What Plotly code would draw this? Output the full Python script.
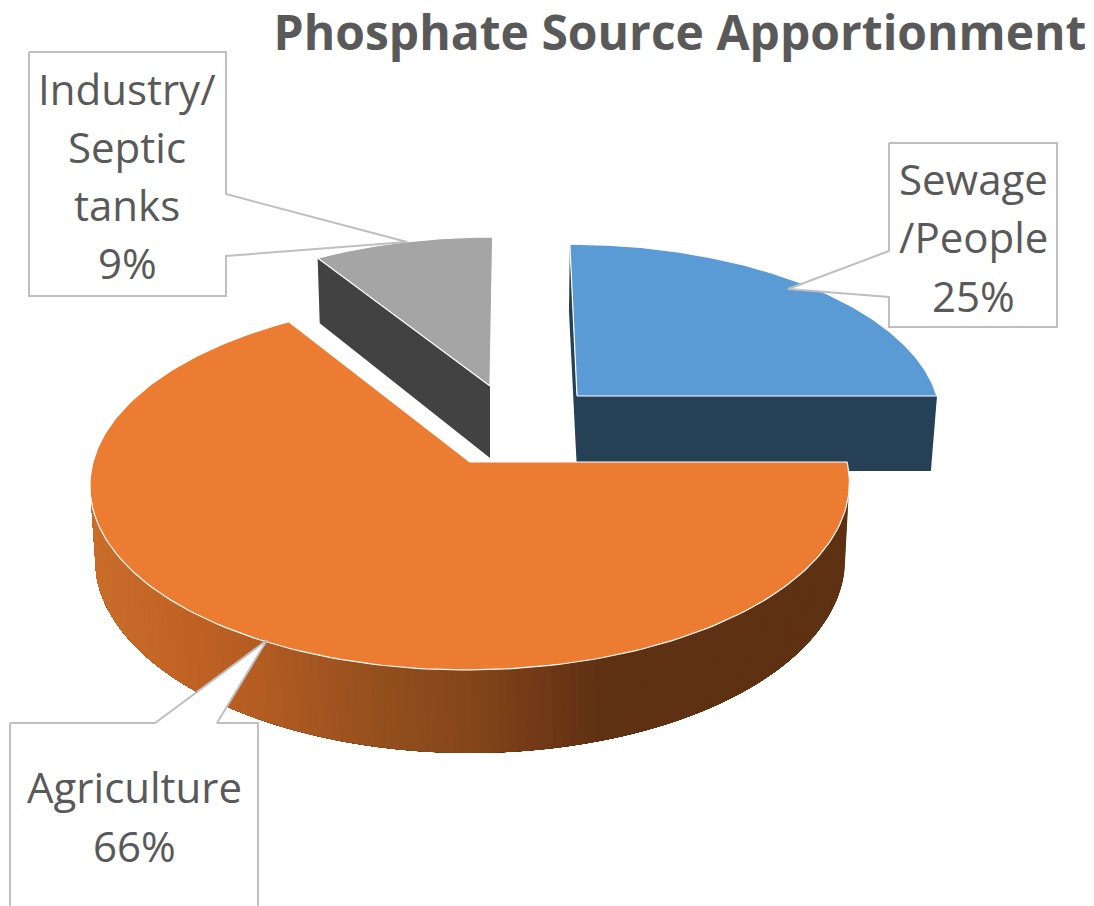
import numpy as np
import plotly.graph_objects as go

# ---- data ----
title_text = "Phosphate Source Apportionment"
categories = ["Sewage/People", "Agriculture", "Industry/Septic tanks"]
values = [25, 66, 9]
label_lines = [["Sewage", "/People"], ["Agriculture"], ["Industry/", "Septic", "tanks"]]

# ---- style / projection settings (pixel space) ----
W, H = 1094, 906
TOP = ["#5B9BD5", "#EB7C31", "#A5A5A5"]
SIDE = ["#264156", "#5F3113", "#424242"]
TEXT = "#595959"
BOX = "#BFBFBF"
FONT = "Open Sans"
K = 0.12  # perspective strength
# apex x, apex y, half-width, half-depth, extrusion, bottom scale, top skew, bottom skew
GEOM = [
    dict(cx=577, cy=396, a=360, b=170, d=75, bs=0.983, st=-8, sb=-9),
    dict(cx=470, cy=462, a=377, b=183, d=73, bs=0.988, st=3, sb=0),
    dict(cx=490, cy=386, a=359, b=167, d=72, bs=0.988, st=3, sb=3),
]
GRAD_X = [92, 180, 260, 400, 480, 540, 600, 850]
GRAD_RGB = [(201, 109, 43), (194, 99, 36), (179, 92, 34), (144, 77, 29),
            (131, 69, 24), (115, 57, 23), (95, 49, 19), (95, 49, 19)]
SIDE_START, SIDE_END = 100.0, 258.0
# callouts: box x0, y0, x1, y1, text centre x, first line y, line step
CALLOUTS = [
    dict(x0=889, y0=143, x1=1057, y1=327, tx=973, ty=178, step=58.5,
         ptr=[(889, 251), (788, 289), (889, 297)], side="left"),
    dict(x0=10, y0=723, x1=258, y1=915, tx=134, ty=786, step=59,
         ptr=[(155, 723), (267, 640), (217, 723)], side="top"),
    dict(x0=29, y0=52, x1=226, y1=296, tx=127, ty=88, step=58.3,
         ptr=[(226, 194), (407, 242), (226, 256)], side="right"),
]

# ---- angles from values (clockwise from 12 o'clock) ----
cum = np.concatenate([[0], np.cumsum(values)]) / sum(values) * 360.0


def top_pt(g, t):
    X, Y = np.sin(np.radians(t)), np.cos(np.radians(t))
    s = 1 + K * Y
    return g["cx"] + (g["a"] * X + g["st"] * Y) / s, g["cy"] - g["b"] * Y / s


def bot_pt(g, t):
    X, Y = np.sin(np.radians(t)), np.cos(np.radians(t))
    s = 1 + K * Y
    return (g["cx"] + (g["a"] * g["bs"] * X + g["sb"] * Y) / s,
            g["cy"] - g["b"] * Y / s + g["d"] / s)


def poly(xs, ys, fill, line=None, lw=0, name=None, hover=None):
    return go.Scatter(
        x=list(xs), y=list(ys), mode="lines", fill="toself", fillcolor=fill,
        line=dict(color=line or fill, width=lw),
        hoverinfo="text" if hover else "skip", text=hover, name=name or "",
        showlegend=False,
    )


def wedge(i):
    g = GEOM[i]
    ts = np.linspace(cum[i], cum[i + 1], 200)
    xs, ys = top_pt(g, ts)
    return poly([g["cx"], *xs, g["cx"]], [g["cy"], *ys, g["cy"]], TOP[i],
                line="#FFFFFF", lw=1.2, name=categories[i],
                hover=f"{categories[i]}: {values[i]}%")


def flat_face(i, t):
    g = GEOM[i]
    x1, y1 = top_pt(g, t)
    x2, y2 = bot_pt(g, t)
    return poly([g["cx"], x1, x2, g["cx"], g["cx"]],
                [g["cy"], y1, y2, g["cy"] + g["d"], g["cy"]], SIDE[i])


def grad(x):
    rgb = [np.interp(x, GRAD_X, [c[j] for c in GRAD_RGB]) for j in range(3)]
    return "rgb(%d,%d,%d)" % tuple(int(round(v)) for v in rgb)


fig = go.Figure()

# Industry wedge (back)
fig.add_trace(flat_face(2, cum[2]))
fig.add_trace(wedge(2))
# Sewage wedge
fig.add_trace(flat_face(0, cum[0]))
fig.add_trace(flat_face(0, cum[1]))
fig.add_trace(wedge(0))
# Agriculture rim: each band runs on to the far end and the next one paints
# over it, so no seams show between the colour steps
edges = np.linspace(SIDE_START, SIDE_END, 130)
for t0 in edges[:-1]:
    ts = np.linspace(t0, SIDE_END, 120)
    xt, yt = top_pt(GEOM[1], ts)
    xb, yb = bot_pt(GEOM[1], ts)
    fig.add_trace(poly([*xt, *xb[::-1]], [*yt, *yb[::-1]], grad(float(xt[0]))))
fig.add_trace(wedge(1))

# Callouts
annotations = []
for c, lines, v in zip(CALLOUTS, label_lines, values):
    x0, y0, x1, y1 = c["x0"], c["y0"], c["x1"], c["y1"]
    p = c["ptr"]
    if c["side"] == "left":
        pts = [(x0, y0), (x1, y0), (x1, y1), (x0, y1), *p[::-1], (x0, y0)]
    elif c["side"] == "right":
        pts = [(x0, y0), (x1, y0), *p, (x1, y1), (x0, y1), (x0, y0)]
    else:
        pts = [(x0, y0), *p, (x1, y0), (x1, y1), (x0, y1), (x0, y0)]
    fig.add_trace(go.Scatter(
        x=[q[0] for q in pts], y=[q[1] for q in pts], mode="lines",
        fill="toself", fillcolor="#FFFFFF", line=dict(color=BOX, width=2),
        hoverinfo="skip", showlegend=False))
    for n, s in enumerate([*lines, f"{v}%"]):
        annotations.append(dict(
            x=c["tx"], y=c["ty"] + n * c["step"], xref="x", yref="y", text=s,
            showarrow=False, xanchor="center", yanchor="middle",
            font=dict(family=FONT, size=42, color=TEXT)))

fig.update_layout(
    width=W, height=H, autosize=False,
    margin=dict(l=0, r=0, t=0, b=0),
    paper_bgcolor="#FFFFFF", plot_bgcolor="#FFFFFF",
    showlegend=False,
    title=dict(text=f"<b>{title_text}</b>", x=680 / W, y=1 - 33 / H,
               xanchor="center", yanchor="middle",
               font=dict(family=FONT, size=48, color=TEXT)),
    xaxis=dict(range=[0, W], visible=False, fixedrange=True),
    yaxis=dict(range=[H, 0], visible=False, fixedrange=True),
    annotations=annotations,
)

fig.write_html("out.html", config=dict(displayModeBar=False),
               post_script="document.body.style.margin='0';document.body.style.overflow='hidden';")
